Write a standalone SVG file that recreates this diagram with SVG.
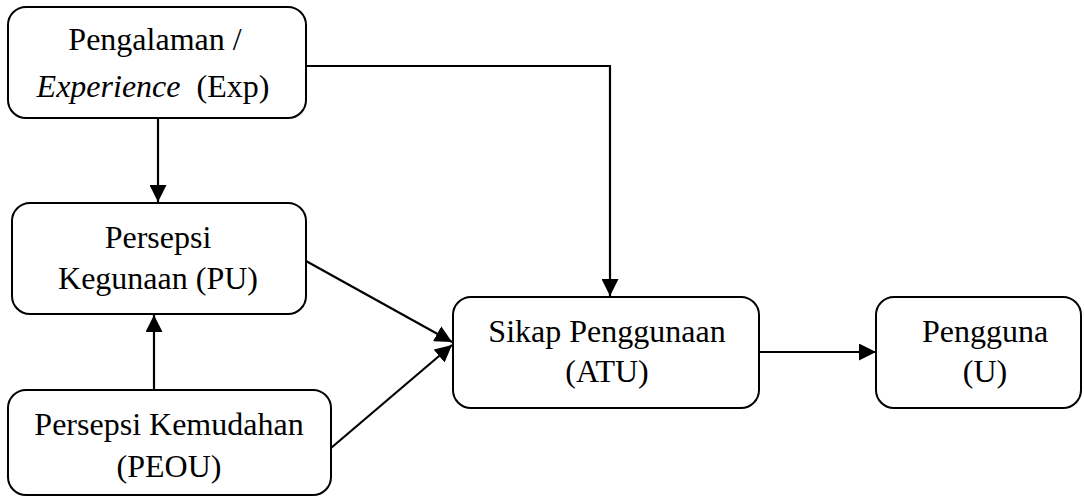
<svg xmlns="http://www.w3.org/2000/svg" width="1084" height="497" viewBox="0 0 1084 497">
  <style>
    .box { fill: #ffffff; stroke: #000000; stroke-width: 2; }
    .lbl { font-family: "Liberation Serif", "Times New Roman", serif; font-size: 32px; fill: #000000; text-anchor: middle; }
    .edge { fill: none; stroke: #000000; stroke-width: 2.2; marker-end: url(#head); }
  </style>
  <defs>
    <marker id="head" markerUnits="userSpaceOnUse" markerWidth="17" markerHeight="17" refX="17" refY="8.5" orient="auto">
      <path d="M0,0 L17,8.5 L0,17 z" fill="#000000"/>
    </marker>
  </defs>

  <g id="connectors">
    <path class="edge" d="M158,118 L158,202"/>
    <path class="edge" d="M306,66 L610,66 L610,296"/>
    <path class="edge" d="M154,390 L154,315"/>
    <path class="edge" d="M306,261 L452,342"/>
    <path class="edge" d="M331,448 L452,345"/>
    <path class="edge" d="M759,352 L876,352"/>
  </g>

  <g id="exp">
    <rect class="box" x="8" y="7" width="298" height="111" rx="18"/>
    <text class="lbl" x="155" y="50">Pengalaman /</text>
    <text class="lbl" x="153" y="97" xml:space="preserve"><tspan font-style="italic">Experience</tspan>  (Exp)</text>
  </g>

  <g id="pu">
    <rect class="box" x="12" y="203" width="294" height="111" rx="18"/>
    <text class="lbl" x="158" y="248">Persepsi</text>
    <text class="lbl" x="158" y="289">Kegunaan (PU)</text>
  </g>

  <g id="peou">
    <rect class="box" x="8" y="390" width="323" height="105" rx="18"/>
    <text class="lbl" x="169" y="435">Persepsi Kemudahan</text>
    <text class="lbl" x="169" y="477">(PEOU)</text>
  </g>

  <g id="atu">
    <rect class="box" x="453" y="297" width="306" height="111" rx="18"/>
    <text class="lbl" x="607" y="342">Sikap Penggunaan</text>
    <text class="lbl" x="607" y="382">(ATU)</text>
  </g>

  <g id="u">
    <rect class="box" x="876" y="297" width="205" height="111" rx="18"/>
    <text class="lbl" x="985" y="342">Pengguna</text>
    <text class="lbl" x="985" y="382">(U)</text>
  </g>
</svg>
